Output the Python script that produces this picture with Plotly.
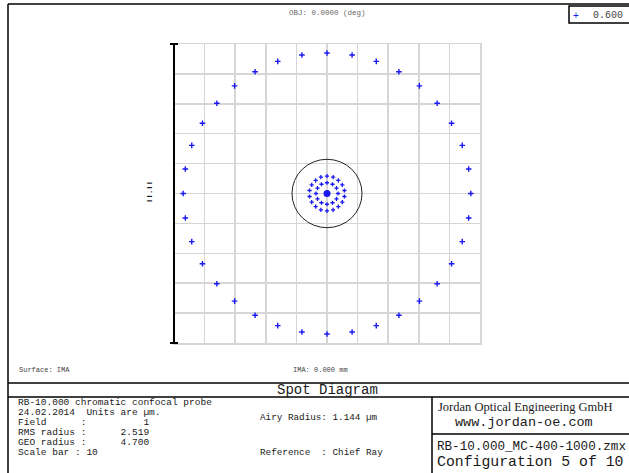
import plotly.graph_objects as go

W, H = 629, 473

# ---- data (micrometres) ----
outer_x = [0.00, 0.82, 1.61, 2.35, 3.02, 3.60, 4.07, 4.42, 4.63, 4.70, 4.63, 4.42,
           4.07, 3.60, 3.02, 2.35, 1.61, 0.82, 0.00, -0.82, -1.61, -2.35, -3.02, -3.60,
           -4.07, -4.42, -4.63, -4.70, -4.63, -4.42, -4.07, -3.60, -3.02, -2.35, -1.61, -0.82]
outer_y = [4.70, 4.63, 4.42, 4.07, 3.60, 3.02, 2.35, 1.61, 0.82, 0.00, -0.82, -1.61,
           -2.35, -3.02, -3.60, -4.07, -4.42, -4.63, -4.70, -4.63, -4.42, -4.07, -3.60, -3.02,
           -2.35, -1.61, -0.82, 0.00, 0.82, 1.61, 2.35, 3.02, 3.60, 4.07, 4.42, 4.63]
ring1_x = [0.00, 0.20, 0.37, 0.50, 0.57, 0.57, 0.50, 0.37, 0.20,
           0.00, -0.20, -0.37, -0.50, -0.57, -0.57, -0.50, -0.37, -0.20]
ring1_y = [0.58, 0.55, 0.44, 0.29, 0.10, -0.10, -0.29, -0.44, -0.55,
           -0.58, -0.55, -0.44, -0.29, -0.10, 0.10, 0.29, 0.44, 0.55]
ring2_x = [0.36, 0.31, 0.18, 0.00, -0.18, -0.31, -0.36, -0.31, -0.18, 0.00, 0.18, 0.31]
ring2_y = [0.00, 0.18, 0.31, 0.36, 0.31, 0.18, 0.00, -0.18, -0.31, -0.36, -0.31, -0.18]
center_x = [0.0]
center_y = [0.0]
airy_radius = 1.144
scale_bar = 10
wavelengths = ["0.600"]

BLUE = "#1a1af0"
GRID = "#d6d6d6"
INK = "#1a1a1a"


def nb(s):
    return s.replace(" ", "\u00a0")


def px(x):
    return x / W


def py(y):
    return 1 - y / H


fig = go.Figure()
fig.add_trace(go.Scatter(
    x=outer_x, y=outer_y, mode="markers",
    marker=dict(symbol="cross-thin", size=4, color=BLUE, line=dict(width=1.4, color=BLUE)),
    hoverinfo="skip"))
fig.add_trace(go.Scatter(
    x=ring1_x + ring2_x, y=ring1_y + ring2_y, mode="markers",
    marker=dict(symbol="cross-thin", size=3, color=BLUE, line=dict(width=1.3, color=BLUE)),
    hoverinfo="skip"))
fig.add_trace(go.Scatter(
    x=center_x, y=center_y, mode="markers",
    marker=dict(symbol="circle", size=7, color=BLUE), hoverinfo="skip"))

half = scale_bar / 2
axis_common = dict(range=[-half, half], dtick=1, tick0=0, showgrid=True, gridcolor=GRID,
                   gridwidth=1.5, zeroline=False, showticklabels=False, ticks="",
                   showline=True, linecolor=GRID, linewidth=1.5, mirror=True, fixedrange=True)

shapes = []
# Airy disc
shapes.append(dict(type="circle", xref="x", yref="y", x0=-airy_radius, x1=airy_radius,
                   y0=-airy_radius, y1=airy_radius, line=dict(color="#222", width=1)))


def pline(x0, y0, x1, y1, w=1.5, c="#000"):
    shapes.append(dict(type="line", xref="paper", yref="paper", x0=px(x0), y0=py(y0),
                       x1=px(x1), y1=py(y1), line=dict(color=c, width=w)))


# scale bar
pline(174, 44, 174, 343, 2)
pline(170, 44, 178, 44, 2)
pline(170, 343, 178, 343, 2)
# frame
pline(8, 4, 629, 4)
pline(8, 4, 8, 473)
pline(8, 383, 629, 383)
pline(8, 397, 629, 397)
pline(432, 397, 432, 473)
pline(432, 434, 629, 434)
# legend box
shapes.append(dict(type="rect", xref="paper", yref="paper", x0=px(569), x1=px(640),
                   y0=py(23), y1=py(6), line=dict(color="#000", width=1.5)))

ann = []


def text(x, y, s, size, font="Liberation Mono", anchor="left", color=INK, angle=0):
    ann.append(dict(x=px(x), y=py(y), xref="paper", yref="paper", text=nb(s), showarrow=False,
                    xanchor=anchor, yanchor="middle", textangle=angle, borderpad=0,
                    font=dict(family=font, size=size, color=color)))


text(327, 13, "OBJ: 0.0000 (deg)", 7.5, color="#666", anchor="center")
text(576, 15, "+", 10, font="Liberation Sans", color=BLUE, anchor="center")
text(592, 15, wavelengths[0], 10, color="#444")
text(150, 192, "<b>I I . I I</b>", 8, font="Liberation Sans", anchor="center", angle=-90)
text(18, 370, "Surface: IMA", 7, color="#444")
text(320, 370, "IMA: 0.000 mm", 7, color="#444", anchor="center")
text(327, 390, "Spot Diagram", 14, anchor="center")

left_lines = [
    "RB-10.000 chromatic confocal probe",
    "24.02.2014  Units are µm.",
    "Field      :          1",
    "RMS radius :      2.519",
    "GEO radius :      4.700",
    "Scale bar : %d" % scale_bar,
]
left_y = [402, 412, 422, 432, 442, 452]
for s, yy in zip(left_lines, left_y):
    text(17, yy, s, 9.5)
text(259, 417, "Airy Radius: %.3f µm" % airy_radius, 9.3)
text(259, 452, "Reference  : Chief Ray", 9.3)

text(437, 407, "Jordan Optical Engineering GmbH", 12.5, font="Liberation Serif")
text(524, 422, "www.jordan-oe.com", 13.5, anchor="center")
text(436, 447, "RB-10.000_MC-400-1000.zmx", 12.6)
text(436, 462, "Configuration 5 of 10", 14.8)

fig.update_layout(
    width=W, height=H, margin=dict(l=0, r=0, t=0, b=0),
    paper_bgcolor="white", plot_bgcolor="white", showlegend=False,
    xaxis=dict(domain=[px(174), px(480)], **axis_common),
    yaxis=dict(domain=[py(343), py(44)], **axis_common),
    shapes=shapes, annotations=ann,
)

fig.write_html("out.html", config={"displayModeBar": False, "staticPlot": True},
               post_script="document.body.style.margin='0px';")
